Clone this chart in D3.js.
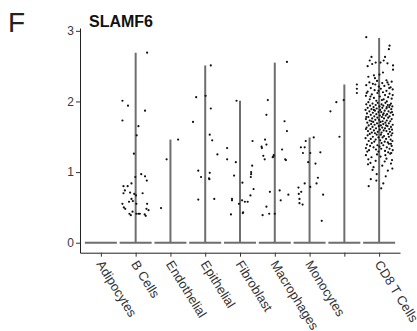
<!DOCTYPE html>
<html>
<head>
<meta charset="utf-8">
<script src="https://cdn.jsdelivr.net/npm/d3@7"></script>
<style>
    body { margin: 0; background: #fff; }
    #chart { width: 417px; height: 331px; }
    text { font-family: "Liberation Sans", Arial, sans-serif; }
</style>
</head>
<body>
<div id="chart"></div>
<script>
// cell types along the x axis (one has no label in the figure)
var cellTypes = ["Adipocytes", "B Cells", "Endothelial", "Epithelial", "Fibroblast",
    "Macrophages", "Monocytes", "", "CD8 T Cells"];

// highest expression per cell type (top of each violin)
var maxExpr = [0, 2.69, 1.46, 2.51, 2.01, 2.55, 1.49, 2.24, 2.90];

var yTicks = [0, 1, 2, 3];

// non-zero cells: [expression, jitter in band steps]
var bCells = [[2.69,0.33],[2.01,-0.38],[1.94,-0.22],[1.87,0.27],[1.73,-0.38],[1.65,0.08],[1.52,0.03],
    [1.26,-0.05],[0.97,0.16],[0.94,0.27],[0.93,-0.01],[0.88,0.32],[0.84,-0.12],[0.80,-0.35],[0.80,-0.23],
    [0.74,-0.31],[0.71,-0.16],[0.70,-0.35],[0.70,0.20],[0.69,-0.04],[0.67,0.01],[0.62,-0.12],[0.59,-0.08],
    [0.58,-0.19],[0.55,0.02],[0.55,-0.38],[0.55,0.33],[0.50,-0.34],[0.48,-0.30],[0.48,0.31],[0.46,0.37],
    [0.44,-0.09],[0.41,-0.18],[0.41,0.02],[0.41,0.08],[0.41,0.12],[0.40,0.26],[0.38,0.29],[0.39,-0.14]];

var endothelial = [[1.46,0.22],[1.18,-0.11],[0.49,-0.27]];

var epithelial = [[2.51,0.16],[2.08,0.01],[2.06,-0.26],[1.90,0.16],[1.71,-0.35],[1.53,0.13],[1.45,0.20],
    [1.25,0.35],[1.02,-0.20],[0.99,0.13],[0.93,-0.12],[0.91,0.11],[0.90,0.12],[0.62,0.26],[0.61,-0.20]];

var fibroblast = [[2.01,-0.10],[1.44,0.36],[1.34,-0.37],[1.18,-0.37],[1.14,-0.12],[1.09,0.35],[1.00,0.32],
    [0.97,0.32],[0.95,-0.17],[0.93,0.31],[0.85,0.07],[0.76,0.39],[0.67,0.30],[0.62,-0.23],[0.60,-0.23],
    [0.60,0.06],[0.58,0.14],[0.58,0.22],[0.55,-0.03],[0.43,0.09],[0.42,0.08],[0.40,-0.26]];

var macrophages = [[2.56,0.35],[2.02,-0.20],[1.81,-0.24],[1.72,0.28],[1.58,0.35],[1.46,-0.28],[1.39,-0.24],
    [1.36,-0.38],[1.34,-0.37],[1.32,0.21],[1.24,-0.03],[1.23,-0.33],[1.22,-0.04],[1.21,-0.06],[1.18,-0.29],
    [1.18,0.30],[1.17,0.32],[0.74,0.14],[0.72,-0.14],[0.68,0.39],[0.60,0.17],[0.51,-0.24],[0.41,-0.16],
    [0.41,0.00],[0.39,-0.35]];

var monocytes = [[1.49,0.12],[1.44,-0.11],[1.35,-0.25],[1.35,-0.14],[1.28,0.31],[1.27,-0.19],[1.27,0.02],
    [1.14,-0.04],[1.12,0.17],[0.92,0.24],[0.84,0.20],[0.84,-0.14],[0.79,0.02],[0.78,-0.32],[0.72,-0.24],
    [0.69,-0.31],[0.68,0.39],[0.62,-0.29],[0.56,-0.29],[0.54,-0.20],[0.31,0.35]];

var unlabeled = [[2.24,0.36],[2.18,0.36],[2.12,0.36],[2.02,-0.02],[1.99,-0.23],[1.86,-0.40],[1.50,-0.14]];

var cd8 = [[2.91,-0.37],[2.79,0.30],[2.74,0.28],[2.63,-0.22],[2.63,0.17],[2.58,-0.27],[2.58,0.13],[2.55,-0.10],
    [2.55,0.04],[2.54,0.24],[2.53,-0.20],[2.51,0.40],[2.50,-0.33],[2.45,0.40],[2.41,0.11],[2.38,0.01],
    [2.37,-0.15],[2.35,-0.31],[2.33,-0.12],[2.30,0.21],
    [2.29,-0.06],[2.28,0.36],[2.27,-0.28],[2.26,0.09],[2.25,-0.18],[2.24,0.27],[2.23,-0.37],[2.22,0.15],
    [2.21,-0.01],[2.20,0.33],[2.19,-0.24],[2.18,0.05],[2.17,0.39],[2.16,-0.13],[2.15,0.21],[2.14,-0.33],
    [2.13,0.11],[2.12,-0.05],[2.11,0.30],[2.10,-0.21],[2.09,0.17],[2.08,-0.38],[2.07,0.02],[2.06,0.26],
    [2.05,-0.15],[2.04,0.36],[2.03,-0.27],[2.02,0.08],[2.01,-0.08],[2.00,0.22],[2.27,0.24],[2.19,0.29],
    [2.12,-0.36],[2.07,-0.25],[2.03,0.13],[2.15,-0.02],[2.24,-0.11],[2.09,0.39],
    [1.99,-0.31],[1.98,0.18],[1.98,-0.04],[1.97,0.34],[1.97,-0.19],[1.96,0.07],[1.96,-0.37],[1.95,0.25],
    [1.95,-0.10],[1.94,0.12],[1.94,-0.26],[1.93,0.38],[1.93,0.01],[1.92,-0.16],[1.92,0.29],[1.91,-0.33],
    [1.91,0.09],[1.90,-0.07],[1.90,0.21],[1.89,-0.22],[1.89,0.35],[1.88,0.03],[1.88,-0.39],[1.87,0.16],
    [1.87,-0.12],[1.86,0.27],[1.86,-0.28],[1.85,0.06],[1.85,-0.02],[1.84,0.33],[1.84,-0.18],[1.83,0.13],
    [1.83,-0.35],[1.82,0.23],[1.82,-0.08],[1.81,0.40],[1.81,-0.24],[1.80,0.02],[1.80,0.19],[1.79,-0.14],
    [1.79,0.30],[1.78,-0.31],[1.78,0.08],[1.77,-0.05],[1.77,0.26],[1.76,-0.20],[1.76,0.14],[1.75,-0.38],
    [1.75,0.36],[1.74,0.00],[1.74,-0.11],[1.73,0.22],[1.73,-0.27],[1.72,0.10],[1.72,0.32],[1.71,-0.17],
    [1.71,0.04],[1.70,-0.34],[1.70,0.18],[1.69,-0.06],[1.69,0.28],[1.68,-0.23],[1.68,0.12],[1.67,0.39],
    [1.67,-0.13],[1.66,0.05],[1.66,-0.30],[1.65,0.24],[1.65,-0.01],[1.64,-0.19],[1.64,0.34],[1.63,0.09],
    [1.63,-0.36],[1.62,0.17],[1.62,-0.09],[1.61,0.29],[1.61,-0.25],[1.60,0.02],[1.60,0.37],[1.59,-0.15],
    [1.59,0.13],[1.58,-0.32],[1.58,0.21],[1.57,-0.04],[1.57,0.31],[1.56,-0.21],[1.56,0.07],[1.55,0.38],
    [1.55,-0.12],[1.92,0.22],[1.85,0.37],[1.78,-0.37],[1.72,-0.22],[1.66,0.20],[1.61,-0.38],[1.81,0.11],
    [1.88,-0.15],[1.95,0.31],
    [1.54,0.26],[1.54,-0.27],[1.53,0.05],[1.53,-0.07],[1.52,0.35],[1.52,-0.33],[1.51,0.14],[1.50,-0.18],
    [1.50,0.28],[1.49,-0.02],[1.49,0.10],[1.48,-0.39],[1.47,0.20],[1.47,-0.24],[1.46,0.33],[1.46,-0.10],
    [1.45,0.03],[1.44,0.38],[1.44,-0.30],[1.43,0.16],[1.43,-0.14],[1.42,0.25],[1.41,-0.21],[1.41,0.07],
    [1.40,0.34],[1.40,0.28],[1.39,-0.35],[1.38,0.12],[1.38,-0.05],[1.37,0.36],[1.37,-0.26],[1.36,0.01],
    [1.35,0.22],[1.35,-0.16],[1.34,-0.38],[1.33,0.30],[1.33,0.06],[1.32,-0.09],[1.31,0.39],[1.31,-0.29],
    [1.30,0.17],[1.29,-0.34],[1.29,-0.02],[1.28,0.26],[1.27,0.35],
    [1.26,0.32],[1.25,-0.06],[1.24,-0.38],[1.24,0.18],[1.22,0.04],[1.21,-0.22],[1.19,0.21],[1.18,-0.31],
    [1.17,0.37],[1.16,-0.10],[1.15,0.16],[1.13,-0.25],[1.12,0.34],[1.11,-0.32],[1.09,0.09],[1.07,-0.16],
    [1.05,0.38],[1.03,-0.19],[1.02,0.25],
    [0.97,-0.07],[0.94,0.19],[0.90,-0.24],[0.88,-0.08],[0.84,0.12],[0.80,-0.30],[0.77,0.06]];

var cellPoints = [[], bCells, endothelial, epithelial, fibroblast, macrophages, monocytes, unlabeled, cd8];


ViolinPlot = function(_parentElement) {
    this.parentElement = _parentElement;
    this.initVis();
};

ViolinPlot.prototype.initVis = function() {
    var vis = this;

    vis.width = 417;
    vis.height = 331;

    vis.svg = d3.select("#" + vis.parentElement).append("svg")
        .attr("width", vis.width)
        .attr("height", vis.height);

    // plot area bounds
    vis.left = 80;
    vis.right = 400;
    vis.top = 28;
    vis.bottom = 252.7;

    vis.x = d3.scalePoint()
        .domain(cellTypes)
        .range([vis.left, vis.right])
        .padding(0.6);

    vis.y = d3.scaleLinear()
        .domain([-0.1415, 3.04])
        .range([vis.bottom, vis.top]);

    // panel letter + gene title
    vis.svg.append("text")
        .attr("x", 8)
        .attr("y", 31.5)
        .attr("font-size", 28)
        .attr("fill", "#222")
        .text("F");

    vis.svg.append("text")
        .attr("x", 89)
        .attr("y", 26.5)
        .attr("font-size", 16)
        .attr("font-weight", "bold")
        .attr("fill", "#111")
        .text("SLAMF6");

    // y axis
    var yAxis = vis.svg.append("g")
        .attr("transform", "translate(" + vis.left + ",0)")
        .call(d3.axisLeft(vis.y).tickValues(yTicks).tickFormat(d3.format("d"))
            .tickSize(4).tickPadding(2).tickSizeOuter(0));
    yAxis.select(".domain").attr("stroke", "#222");
    yAxis.selectAll(".tick line").attr("stroke", "#333");
    yAxis.selectAll(".tick text")
        .attr("font-size", 12)
        .attr("font-family", "Liberation Sans, Arial, sans-serif")
        .attr("fill", "#3a3a3a");

    // x axis
    var xAxis = vis.svg.append("g")
        .attr("transform", "translate(0," + vis.bottom + ")")
        .call(d3.axisBottom(vis.x).tickSize(4).tickSizeOuter(0).tickFormat(""));
    xAxis.select(".domain").attr("stroke", "#222");
    xAxis.selectAll(".tick line").attr("stroke", "#333");

    vis.svg.append("g").selectAll(".xlab")
        .data(cellTypes)
        .enter().append("text")
        .attr("class", "xlab")
        .attr("transform", function(d) {
            return "translate(" + (vis.x(d) - 1) + "," + (vis.bottom + 9) + ") rotate(58)";
        })
        .attr("dy", "0.35em")
        .attr("font-size", 13)
        .attr("fill", "#333")
        .text(function(d) { return d; });

    // violins: nearly all cells sit at 0, so each one is a wide base and a thin spine
    var half = vis.x.step() * 0.46;
    var violins = vis.svg.append("g");

    violins.selectAll(".base")
        .data(cellTypes)
        .enter().append("line")
        .attr("class", "base")
        .attr("x1", function(d) { return vis.x(d) - half; })
        .attr("x2", function(d) { return vis.x(d) + half; })
        .attr("y1", vis.y(0))
        .attr("y2", vis.y(0))
        .attr("stroke", "#6e6e6e")
        .attr("stroke-width", 2);

    violins.selectAll(".spine")
        .data(cellTypes.map(function(c, i) { return {cat: c, max: maxExpr[i]}; })
            .filter(function(d) { return d.max > 0; }))
        .enter().append("line")
        .attr("class", "spine")
        .attr("x1", function(d) { return vis.x(d.cat); })
        .attr("x2", function(d) { return vis.x(d.cat); })
        .attr("y1", vis.y(0))
        .attr("y2", function(d) { return vis.y(d.max); })
        .attr("stroke", "#6e6e6e")
        .attr("stroke-width", 2);

    // jittered cells
    var pts = [];
    cellTypes.forEach(function(c, i) {
        cellPoints[i].forEach(function(p) { pts.push({cat: c, v: p[0], j: p[1]}); });
    });

    vis.svg.append("g").selectAll(".cell")
        .data(pts)
        .enter().append("circle")
        .attr("class", "cell")
        .attr("cx", function(d) { return vis.x(d.cat) + d.j * vis.x.step(); })
        .attr("cy", function(d) { return vis.y(d.v); })
        .attr("r", 1.1)
        .attr("fill", "#111");
};

var plot = new ViolinPlot("chart");
</script>
</body>
</html>
